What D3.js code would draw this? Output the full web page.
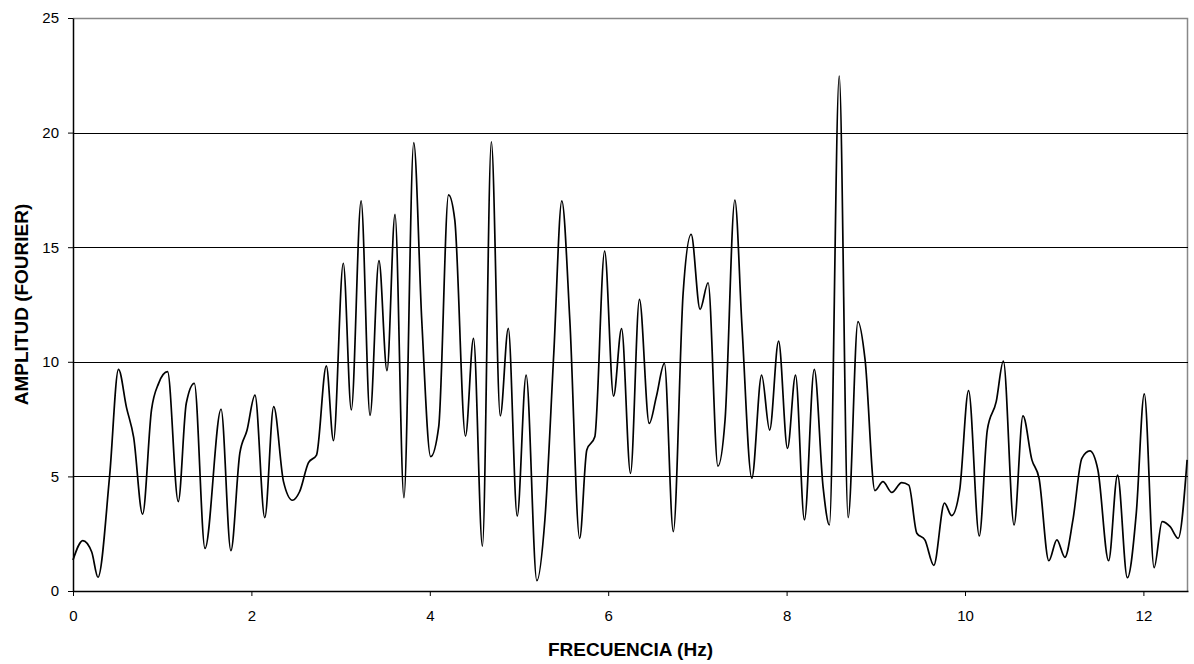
<!DOCTYPE html>
<html>
<head>
<meta charset="utf-8">
<script src="https://cdn.jsdelivr.net/npm/d3@7"></script>
<style>
  html, body { margin: 0; padding: 0; background: #fff; }
  svg { display: block; font-family: "Liberation Sans", Arial, sans-serif; }
</style>
</head>
<body>
<svg id="chart" width="1194" height="664"></svg>
<script>
// Fourier amplitude spectrum: frequency (Hz) and amplitude
const frequency = [
  0.00, 0.11, 0.21, 0.28, 0.41, 0.51, 0.60, 0.68, 0.78, 0.88, 0.96, 1.06,
  1.18, 1.27, 1.36, 1.48, 1.66, 1.77, 1.87, 1.95, 2.04, 2.15, 2.25, 2.36,
  2.46, 2.54, 2.64, 2.73, 2.84, 2.92, 3.03, 3.12, 3.23, 3.33, 3.43, 3.52,
  3.61, 3.71, 3.82, 3.91, 4.01, 4.10, 4.21, 4.28, 4.40, 4.49, 4.59, 4.69,
  4.79, 4.88, 4.98, 5.08, 5.20, 5.29, 5.39, 5.48, 5.57, 5.68, 5.76, 5.85,
  5.96, 6.06, 6.15, 6.25, 6.35, 6.46, 6.54, 6.63, 6.73, 6.84, 6.93, 7.03,
  7.12, 7.23, 7.31, 7.42, 7.50, 7.61, 7.72, 7.81, 7.91, 8.01, 8.10, 8.20,
  8.31, 8.41, 8.48, 8.59, 8.69, 8.80, 8.88, 8.99, 9.08, 9.18, 9.29, 9.37,
  9.46, 9.55, 9.65, 9.77, 9.85, 9.94, 10.04, 10.16, 10.25, 10.35, 10.43, 10.55,
  10.65, 10.75, 10.83, 10.94, 11.03, 11.12, 11.21, 11.31, 11.40, 11.49, 11.61, 11.71,
  11.82, 11.92, 12.01, 12.12, 12.21, 12.30, 12.39, 12.49
];
const amplitude = [
  1.35, 2.20, 1.70, 0.60, 5.00, 9.67, 8.00, 6.70, 3.35, 7.90, 9.06, 9.57,
  3.90, 8.19, 9.06, 1.86, 7.93, 1.76, 6.00, 7.00, 8.55, 3.20, 8.04, 4.77,
  3.96, 4.33, 5.60, 5.93, 9.82, 6.56, 14.30, 7.90, 17.02, 7.66, 14.41, 9.61,
  16.43, 4.07, 19.56, 11.80, 5.86, 7.17, 17.28, 16.19, 6.76, 11.02, 1.96, 19.60,
  7.64, 11.46, 3.27, 9.42, 0.45, 3.10, 10.37, 17.02, 11.80, 2.30, 6.15, 6.73,
  14.83, 8.50, 11.45, 5.13, 12.72, 7.31, 8.48, 9.93, 2.59, 12.99, 15.56, 12.29,
  13.45, 5.45, 7.46, 17.06, 11.53, 4.92, 9.42, 7.02, 10.90, 6.22, 9.42, 3.10,
  9.67, 4.50, 2.88, 22.47, 3.20, 11.75, 10.08, 4.38, 4.77, 4.30, 4.73, 4.62,
  2.52, 2.23, 1.12, 3.83, 3.29, 4.40, 8.74, 2.40, 7.02, 8.26, 10.03, 2.88,
  7.64, 5.72, 4.92, 1.32, 2.23, 1.47, 3.10, 5.79, 6.11, 5.28, 1.32, 5.06,
  0.58, 3.39, 8.60, 1.02, 3.03, 2.81, 2.30, 5.72
];
const xTicks = [0, 2, 4, 6, 8, 10, 12];
const yTicks = [0, 5, 10, 15, 20, 25];

const svg = d3.select("#chart");
const plot = { left: 73, top: 18, right: 1188, bottom: 591 };

const x = d3.scaleLinear().domain([0, 12.5]).range([plot.left, plot.right]);
const y = d3.scaleLinear().domain([0, 25]).range([plot.bottom, plot.top]);

// plot frame (top and right edges in grey)
svg.append("path")
  .attr("d", `M${plot.left},${plot.top + 0.5}H${plot.right - 0.5}V${plot.bottom}`)
  .attr("fill", "none")
  .attr("stroke", "#888")
  .attr("stroke-width", 1.5);

// horizontal gridlines
svg.append("g")
  .selectAll("line")
  .data(yTicks.filter(v => v > 0 && v < 25))
  .join("line")
  .attr("x1", plot.left)
  .attr("x2", plot.right)
  .attr("y1", d => Math.round(y(d)) + 0.5)
  .attr("y2", d => Math.round(y(d)) + 0.5)
  .attr("stroke", "#000")
  .attr("stroke-width", 1);

// axes
const xAxis = svg.append("g")
  .attr("transform", `translate(0,${plot.bottom})`)
  .call(d3.axisBottom(x).tickValues(xTicks).tickSize(5).tickPadding(14).tickSizeOuter(0));
const yAxis = svg.append("g")
  .attr("transform", `translate(${plot.left},0)`)
  .call(d3.axisLeft(y).tickValues(yTicks).tickSize(5).tickPadding(9).tickSizeOuter(0));

[xAxis, yAxis].forEach(g => {
  g.select(".domain").attr("stroke", "#000").attr("stroke-width", 1.5);
  g.selectAll(".tick line").attr("stroke", "#000");
  g.selectAll(".tick text")
    .attr("fill", "#000")
    .style("font-size", "15px")
    .style("font-family", "'Liberation Sans', Arial, sans-serif");
});

// spectrum curve
const line = d3.line()
  .x((d, i) => x(frequency[i]))
  .y(d => y(d))
  .curve(d3.curveMonotoneX);

svg.append("path")
  .datum(amplitude)
  .attr("d", line)
  .attr("fill", "none")
  .attr("stroke", "#000")
  .attr("stroke-width", 1.7)
  .attr("stroke-linejoin", "round");

// axis titles
svg.append("text")
  .attr("x", (plot.left + plot.right) / 2)
  .attr("y", 656)
  .attr("text-anchor", "middle")
  .style("font-size", "19px")
  .style("font-weight", "bold")
  .text("FRECUENCIA (Hz)");

svg.append("text")
  .attr("transform", `translate(28,${(plot.top + plot.bottom) / 2}) rotate(-90)`)
  .attr("text-anchor", "middle")
  .style("font-size", "19px")
  .style("font-weight", "bold")
  .text("AMPLITUD (FOURIER)");
</script>
</body>
</html>
